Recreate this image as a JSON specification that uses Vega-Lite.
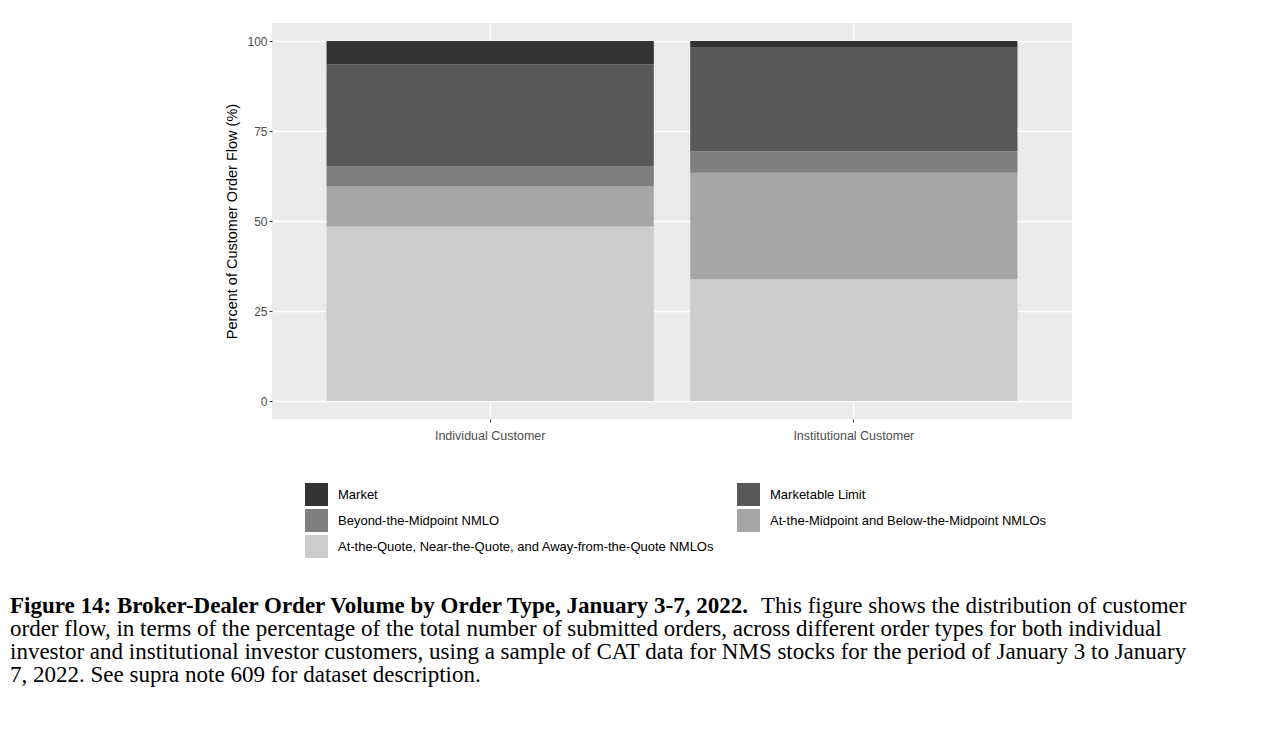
{
  "$schema": "https://vega.github.io/schema/vega-lite/v6.json",
  "padding": {"left": 10, "top": 23, "right": 0, "bottom": 0},
  "background": "white",
  "bounds": "flush",
  "spacing": 175,
  "config": {"font": "Liberation Sans", "view": {"stroke": null}},
  "datasets": {
    "orders": [
      {"customer": "Individual Customer", "type": "At-the-Quote, Near-the-Quote, and Away-from-the-Quote NMLOs", "level": 1, "percent": 48.5},
      {"customer": "Individual Customer", "type": "At-the-Midpoint and Below-the-Midpoint NMLOs", "level": 2, "percent": 11.2},
      {"customer": "Individual Customer", "type": "Beyond-the-Midpoint NMLO", "level": 3, "percent": 5.6},
      {"customer": "Individual Customer", "type": "Marketable Limit", "level": 4, "percent": 28.2},
      {"customer": "Individual Customer", "type": "Market", "level": 5, "percent": 6.5},
      {"customer": "Institutional Customer", "type": "At-the-Quote, Near-the-Quote, and Away-from-the-Quote NMLOs", "level": 1, "percent": 33.8},
      {"customer": "Institutional Customer", "type": "At-the-Midpoint and Below-the-Midpoint NMLOs", "level": 2, "percent": 29.6},
      {"customer": "Institutional Customer", "type": "Beyond-the-Midpoint NMLO", "level": 3, "percent": 6.0},
      {"customer": "Institutional Customer", "type": "Marketable Limit", "level": 4, "percent": 28.9},
      {"customer": "Institutional Customer", "type": "Market", "level": 5, "percent": 1.7}
    ],
    "caption": [
      {"line": 1, "style": "bold", "text": "Figure 14: Broker-Dealer Order Volume by Order Type, January 3-7, 2022."},
      {"line": 1, "style": "lead", "text": "This figure shows the distribution of customer"},
      {"line": 2, "style": "regular", "text": "order flow, in terms of the percentage of the total number of submitted orders, across different order types for both individual"},
      {"line": 3, "style": "regular", "text": "investor and institutional investor customers, using a sample of CAT data for NMS stocks for the period of January 3 to January"},
      {"line": 4, "style": "regular", "text": "7, 2022. See supra note 609 for dataset description."}
    ]
  },
  "vconcat": [
    {
      "width": 800,
      "height": 396,
      "view": {"fill": "#ebebeb", "stroke": null},
      "data": {"name": "orders"},
      "mark": {"type": "bar"},
      "encoding": {
        "x": {
          "field": "customer", "type": "nominal",
          "scale": {"paddingInner": 0.1, "paddingOuter": 0.15},
          "axis": {"title": null, "labelAngle": 0, "labelFontSize": 12.5, "labelColor": "#4d4d4d", "tickColor": "#333333", "tickSize": 3, "labelPadding": 7, "domain": false, "grid": true, "gridColor": "white", "gridWidth": 1.5, "bandPosition": 0.5}
        },
        "y": {
          "field": "percent", "type": "quantitative", "stack": "zero",
          "scale": {"domain": [-5, 105], "nice": false, "zero": false},
          "axis": {"title": "Percent of Customer Order Flow (%)", "values": [0, 25, 50, 75, 100], "labelFontSize": 12, "labelColor": "#4d4d4d", "tickColor": "#333333", "tickSize": 3, "labelPadding": 2, "domain": false, "grid": true, "gridColor": "white", "gridWidth": 1.5, "titleFontSize": 14.5, "titleFontWeight": "normal", "titleColor": "black", "titlePadding": 7}
        },
        "color": {
          "field": "type", "type": "nominal",
          "scale": {
            "domain": ["Market", "Marketable Limit", "Beyond-the-Midpoint NMLO", "At-the-Midpoint and Below-the-Midpoint NMLOs", "At-the-Quote, Near-the-Quote, and Away-from-the-Quote NMLOs"],
            "range": ["#333333", "#595959", "#7f7f7f", "#a6a6a6", "#cccccc"]
          },
          "legend": {"orient": "none", "direction": "horizontal", "legendX": 33, "legendY": 460, "title": null, "columns": 2, "columnPadding": 22, "rowPadding": 3, "symbolType": "square", "symbolSize": 529, "symbolStrokeWidth": 0, "symbolOpacity": 1, "labelFontSize": 13, "labelOffset": 10, "labelLimit": 600, "labelColor": "black"}
        },
        "order": {"field": "level", "type": "quantitative"}
      }
    },
    {
      "width": 800,
      "height": 92,
      "view": {"stroke": null},
      "data": {"name": "caption"},
      "encoding": {
        "y": {"field": "line", "type": "ordinal", "scale": {"type": "point", "padding": 0.5}, "axis": null},
        "text": {"field": "text"}
      },
      "layer": [
        {
          "transform": [{"filter": "datum.style === 'bold'"}],
          "mark": {"type": "text", "font": "Liberation Serif", "fontSize": 23, "fontWeight": "bold", "align": "left", "baseline": "middle", "color": "black"},
          "encoding": {"x": {"value": -262}}
        },
        {
          "transform": [{"filter": "datum.style === 'lead'"}],
          "mark": {"type": "text", "font": "Liberation Serif", "fontSize": 23, "align": "left", "baseline": "middle", "color": "black"},
          "encoding": {"x": {"value": 489}}
        },
        {
          "transform": [{"filter": "datum.style === 'regular'"}],
          "mark": {"type": "text", "font": "Liberation Serif", "fontSize": 23, "align": "left", "baseline": "middle", "color": "black"},
          "encoding": {"x": {"value": -262}}
        }
      ]
    }
  ]
}
